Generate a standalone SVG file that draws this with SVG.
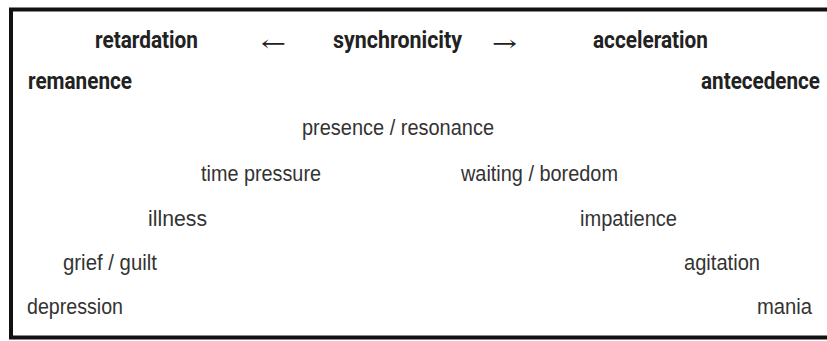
<svg xmlns="http://www.w3.org/2000/svg" width="827" height="341" viewBox="0 0 827 341">
  <style>
    .hd { font-family: Roboto, "Liberation Sans", sans-serif; font-weight: bold; font-size: 23px; fill: #222; }
    .tx { font-family: "Liberation Sans", Arial, sans-serif; font-size: 22px; fill: #333; }
    .ar { font-family: "DejaVu Serif", "Liberation Serif", serif; font-size: 22px; fill: #222; }
  </style>
  <rect x="0" y="0" width="827" height="341" fill="#ffffff"/>
  <!-- frame (open on the right edge) -->
  <rect x="11" y="9.5" width="830" height="328" fill="none" stroke="#111" stroke-width="4"/>

  <g id="retardation"><text class="hd" x="95" y="48" textLength="103" lengthAdjust="spacingAndGlyphs">retardation</text></g>
  <g id="arrow-left"><text class="ar" x="261" y="51" textLength="25" lengthAdjust="spacingAndGlyphs">←</text></g>
  <g id="synchronicity"><text class="hd" x="333" y="48" textLength="129" lengthAdjust="spacingAndGlyphs">synchronicity</text></g>
  <g id="arrow-right"><text class="ar" x="492" y="51" textLength="25" lengthAdjust="spacingAndGlyphs">→</text></g>
  <g id="acceleration"><text class="hd" x="593" y="48" textLength="115" lengthAdjust="spacingAndGlyphs">acceleration</text></g>

  <g id="remanence"><text class="hd" x="28" y="89" textLength="104" lengthAdjust="spacingAndGlyphs">remanence</text></g>
  <g id="antecedence"><text class="hd" x="701" y="89" textLength="119" lengthAdjust="spacingAndGlyphs">antecedence</text></g>

  <g id="presence"><text class="tx" x="302" y="135" textLength="192" lengthAdjust="spacingAndGlyphs">presence / resonance</text></g>

  <g id="time-pressure"><text class="tx" x="201" y="181" textLength="120" lengthAdjust="spacingAndGlyphs">time pressure</text></g>
  <g id="waiting"><text class="tx" x="461" y="181" textLength="157" lengthAdjust="spacingAndGlyphs">waiting / boredom</text></g>

  <g id="illness"><text class="tx" x="148" y="226" textLength="59" lengthAdjust="spacingAndGlyphs">illness</text></g>
  <g id="impatience"><text class="tx" x="580" y="226" textLength="97" lengthAdjust="spacingAndGlyphs">impatience</text></g>

  <g id="grief"><text class="tx" x="63" y="270" textLength="94" lengthAdjust="spacingAndGlyphs">grief / guilt</text></g>
  <g id="agitation"><text class="tx" x="684" y="270" textLength="76" lengthAdjust="spacingAndGlyphs">agitation</text></g>

  <g id="depression"><text class="tx" x="27" y="314" textLength="96" lengthAdjust="spacingAndGlyphs">depression</text></g>
  <g id="mania"><text class="tx" x="757" y="314" textLength="55" lengthAdjust="spacingAndGlyphs">mania</text></g>
</svg>
